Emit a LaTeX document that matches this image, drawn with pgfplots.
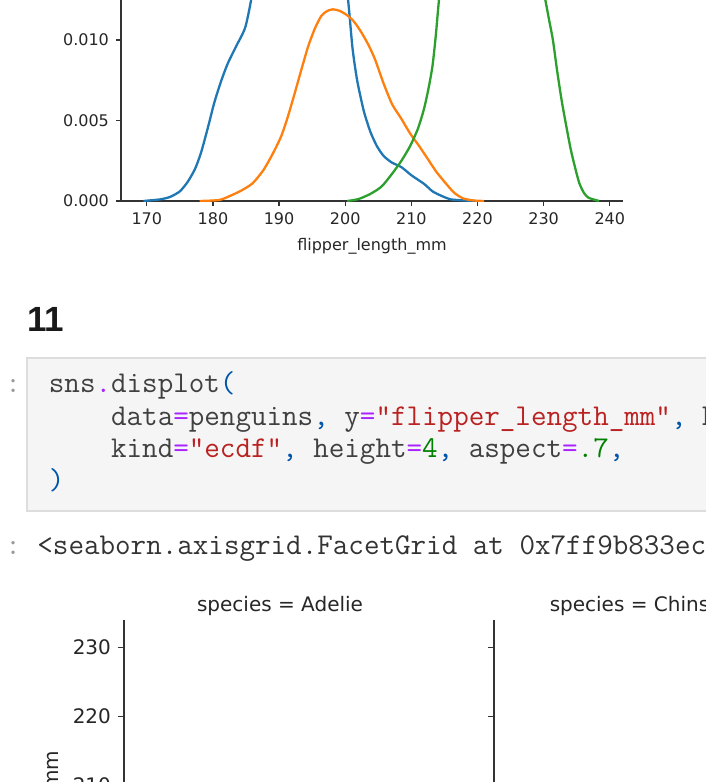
\documentclass[border=0pt]{standalone}
\usepackage{pgfplots}
\pgfplotsset{compat=1.18}
\usepackage{fontspec}
\setmainfont{DejaVu Sans}
\newfontfamily\headfont{Liberation Sans}
\definecolor{tabblue}{HTML}{1F77B4}
\definecolor{taborange}{HTML}{FF7F0E}
\definecolor{tabgreen}{HTML}{2CA02C}
\definecolor{cmop}{HTML}{AA22FF}
\definecolor{cmstr}{HTML}{BA2121}
\definecolor{cmnum}{HTML}{008000}
\definecolor{cmpun}{HTML}{0055AA}
\definecolor{codebg}{HTML}{F5F5F5}
\definecolor{codebd}{HTML}{DDDDDD}
\definecolor{spine}{HTML}{333333}
\definecolor{txt}{HTML}{262626}
\newcommand{\op}[1]{\textcolor{cmop}{#1}}
\newcommand{\str}[1]{\textcolor{cmstr}{#1}}
\newcommand{\num}[1]{\textcolor{cmnum}{#1}}
\newcommand{\pun}[1]{\textcolor{cmpun}{#1}}
\pgfplotsset{
  mplstyle/.style={
    scale only axis,
    axis x line*=bottom, axis y line*=left,
    axis line style={draw=spine, line width=0.7pt},
    tick align=outside, tick pos=left,
    major tick length=2.5pt,
    every tick/.style={draw=spine, line width=0.6pt},
    /pgf/number format/assume math mode=true,
    tick label style={text=txt},
    clip=true,
  }
}
\begin{document}
\begin{tikzpicture}
\path[use as bounding box] (0,0) rectangle (353pt,-391pt);
\clip (0,0) rectangle (353pt,-391pt);

% ---------- top KDE plot ----------
\begin{axis}[mplstyle,
  at={(60.5pt,-100.5pt)}, anchor=south west,
  width=251pt, height=100.5pt,
  xmin=166.1, xmax=242.0, ymin=0, ymax=0.01248,
  xtick={170,180,...,240},
  ytick={0,0.005,0.01},
  yticklabels={0.000,0.005,0.010},
  scaled y ticks=false,
  tick label style={font=\fontsize{8pt}{9.6pt}\selectfont},
]
\addplot[tabblue, line width=1.15pt, smooth, tension=0.4] coordinates {
(169.5,0) (170,0.00002) (172,0.0001) (173.5,0.00025) (175,0.0006) (176.2,0.0012)
(177.3,0.002) (178.2,0.003) (179.2,0.0045) (180.2,0.0061) (181.2,0.0074)
(182.2,0.0085) (183.5,0.0096) (184.9,0.0108) (186,0.013) (187.5,0.017)
(189,0.021) (190.5,0.0235) (192,0.0245) (193.5,0.024) (195,0.0225)
(197,0.021) (198.5,0.0175) (199.5,0.015) (200.4,0.0126) (201.1,0.0095)
(201.8,0.0075) (202.8,0.0056) (203.8,0.0043) (204.8,0.0034) (205.8,0.0028)
(207,0.0024) (208.5,0.0021) (210,0.0016) (211.9,0.00107) (213.2,0.0006)
(214.5,0.00033) (216,0.0001) (218.6,0.00002) (219.5,0)
};
\addplot[taborange, line width=1.15pt, smooth, tension=0.4] coordinates {
(178,0) (180.9,0.00006) (182.5,0.0003) (184.3,0.00065) (186,0.0011)
(187.6,0.0019) (189,0.0029) (190.3,0.004) (191.3,0.0052) (192.3,0.0066)
(193.4,0.0082) (194.4,0.0096) (195.4,0.0107) (196.4,0.0115) (197.3,0.0118)
(198.1,0.0119) (199.2,0.0118) (200.4,0.0115) (201.4,0.0111) (202.4,0.0105)
(203.5,0.0097) (204.5,0.0088) (205.8,0.0073) (207.1,0.006) (208.5,0.0051)
(209.8,0.0042) (211.2,0.0034) (212.5,0.0026) (213.8,0.0018) (215.2,0.0011)
(216.5,0.0005) (217.9,0.00015) (219.5,0.00003) (221,0)
};
\addplot[tabgreen, line width=1.15pt, smooth, tension=0.4] coordinates {
(200.3,0) (202,0.00012) (203.8,0.00044) (205.5,0.0009) (207.1,0.0017)
(208.5,0.0025) (209.8,0.0034) (211,0.0045) (211.9,0.0057) (212.6,0.007)
(213.2,0.0084) (213.7,0.0103) (214.2,0.0126) (215,0.0155) (216.5,0.019)
(218,0.0205) (219.5,0.02) (221,0.0195) (222.5,0.0205) (224,0.0215)
(225.5,0.021) (227,0.019) (228.5,0.0165) (229.5,0.014) (230.2,0.0126)
(230.8,0.0113) (231.4,0.01) (232,0.0082) (232.7,0.0063) (233.4,0.0047)
(234.1,0.0032) (234.8,0.002) (235.4,0.0011) (236.1,0.0005) (236.8,0.0002)
(238.4,0)
};
\end{axis}
\node[anchor=base, text=txt, font=\fontsize{8pt}{9.6pt}\selectfont] at (186pt,-125pt) {flipper\_length\_mm};

% ---------- markdown heading ----------
\node[anchor=base west, inner sep=0pt, text=black!90, font=\headfont\bfseries\fontsize{17.5pt}{20pt}\selectfont] at (13.5pt,-165.5pt) {11};

% ---------- code cell ----------
\filldraw[fill=codebg, draw=codebd, line width=0.6pt] (13.5pt,-179pt) rectangle (360pt,-255.5pt);
\begin{scope}[every node/.style={anchor=base west, inner sep=0pt, font=\ttfamily\fontsize{15.1pt}{17pt}\selectfont}]
\node[text=black!40] at (2.5pt,-196pt) {:};
\node[text=black!75] at (24.25pt,-196pt) {sns\op{.}displot\pun{(}};
\node[text=black!75] at (24.25pt,-212.5pt) {\phantom{xxxx}data\op{=}penguins\pun{,} y\op{=}\str{"flipper\_length\_mm"}\pun{,} hue\op{=}\str{"species"}};
\node[text=black!75] at (24.25pt,-228.5pt) {\phantom{xxxx}kind\op{=}\str{"ecdf"}\pun{,} height\op{=}\num{4}\pun{,} aspect\op{=}\num{.7}\pun{,}};
\node[text=black!75] at (24.25pt,-244.5pt) {\pun{)}};
\node[text=black!40] at (2.5pt,-277pt) {:};
\node[text=black!80] at (18.5pt,-277pt) {<seaborn.axisgrid.FacetGrid at 0x7ff9b833ecd0>};
\end{scope}

% ---------- facet grid (ECDF) ----------
\begin{axis}[mplstyle,
  at={(62pt,-310pt)}, anchor=north west,
  width=156pt, height=224pt,
  xmin=0, xmax=1, ymin=169.05, ymax=233.95,
  ytick={170,180,...,230},
  xtick={0,0.2,...,1},
  tick label style={font=\fontsize{10pt}{12pt}\selectfont},
  major tick length=3pt,
]
\addplot[tabblue, line width=1.15pt] coordinates {
(0.9868,208) (0.9934,208) (0.9934,210) (1.0,210)
};
\end{axis}
\begin{axis}[mplstyle,
  at={(247pt,-310pt)}, anchor=north west,
  width=156pt, height=224pt,
  xmin=0, xmax=1, ymin=169.05, ymax=233.95,
  ytick={170,180,...,230}, yticklabels={},
  xtick={0,0.2,...,1},
  tick label style={font=\fontsize{10pt}{12pt}\selectfont},
  major tick length=3pt,
]
\addplot[taborange, line width=1.15pt] coordinates {
(0.9706,210) (0.9853,210) (0.9853,212) (1.0,212)
};
\end{axis}
\node[anchor=base, text=txt, font=\fontsize{10pt}{12pt}\selectfont] at (140pt,-305.5pt) {species = Adelie};
\node[anchor=base, text=txt, font=\fontsize{10pt}{12pt}\selectfont] at (325pt,-305.5pt) {species = Chinstrap};
\node[rotate=90, anchor=base, text=txt, font=\fontsize{10pt}{12pt}\selectfont] at (29pt,-422pt) {flipper\_length\_mm};
\end{tikzpicture}
\end{document}
